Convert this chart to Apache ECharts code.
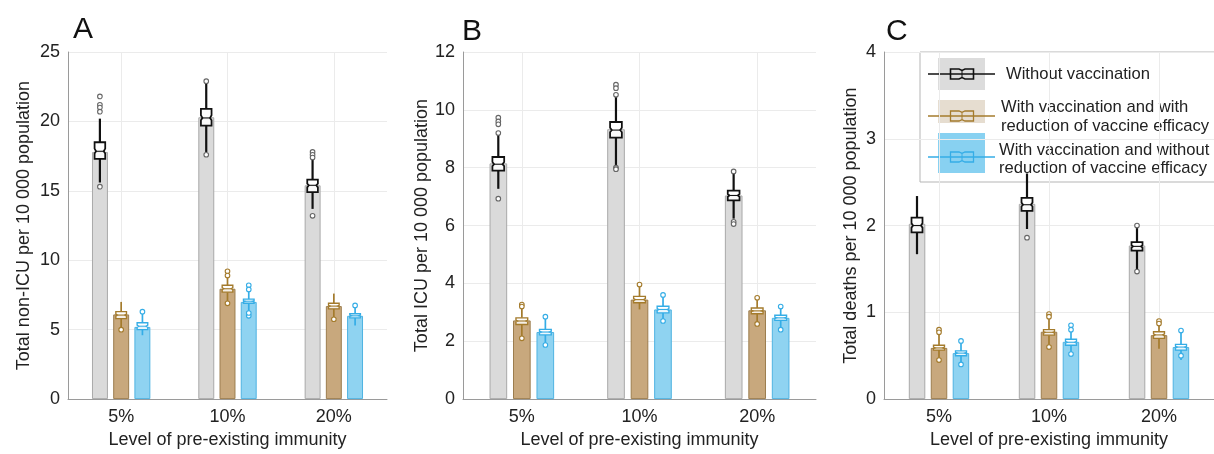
<!DOCTYPE html>
<html><head><meta charset="utf-8">
<script src="https://cdn.jsdelivr.net/npm/echarts@6/dist/echarts.min.js"></script>
<style>html,body{margin:0;padding:0;background:#fff}#c{width:1214px;height:454px}</style>
</head><body><div id="c"></div><script>
const categories = ['5%', '10%', '20%'];
const gridCats = ['', '5%', '', '10%', '', '20%', ''];
const seriesNames = ['Without vaccination', 'With vaccination and with reduction of vaccine efficacy', 'With vaccination and without reduction of vaccine efficacy'];

// ---- Panel A: Total non-ICU per 10 000 population ----
const A_none_mean = [17.8, 20.3, 15.4];
const A_red_mean = [6.1, 7.95, 6.7];
const A_nored_mean = [5.2, 7.0, 6.0];
// box stats per category: [lowWhisker, q1, median, q3, highWhisker]
const A_none_box = [[15.6, 17.3, 17.85, 18.5, 20.2], [17.8, 19.7, 20.25, 20.9, 22.8], [13.7, 14.9, 15.4, 15.8, 17.3]];
const A_red_box = [[4.95, 5.8, 6.05, 6.3, 7.0], [6.75, 7.7, 7.95, 8.2, 9.0], [5.7, 6.5, 6.7, 6.9, 7.6]];
const A_nored_box = [[4.6, 5.0, 5.25, 5.5, 6.2], [5.9, 6.9, 7.05, 7.2, 8.0], [5.3, 5.85, 6.0, 6.15, 6.7]];
// outliers: [categoryIndex, value]
const A_none_out = [[0, 21.8], [0, 21.2], [0, 21.0], [0, 20.7], [0, 15.3], [1, 22.9], [1, 17.6], [2, 17.8], [2, 17.6], [2, 17.4], [2, 13.2]];
const A_red_out = [[0, 5.0], [1, 9.2], [1, 8.9], [1, 6.9], [2, 5.75]];
const A_nored_out = [[0, 6.3], [1, 8.2], [1, 7.9], [1, 6.0], [1, 6.2], [2, 6.75]];

// ---- Panel B: Total ICU per 10 000 population ----
const B_none_mean = [8.15, 9.33, 7.04];
const B_red_mean = [2.72, 3.44, 3.07];
const B_nored_mean = [2.32, 3.1, 2.81];
const B_none_box = [[7.27, 7.9, 8.12, 8.37, 9.2], [8.07, 9.04, 9.3, 9.58, 10.47], [6.24, 6.87, 7.04, 7.21, 7.87]];
const B_red_box = [[2.13, 2.58, 2.7, 2.81, 3.2], [3.1, 3.33, 3.44, 3.55, 3.96], [2.58, 2.95, 3.05, 3.15, 3.5]];
const B_nored_box = [[1.9, 2.22, 2.32, 2.41, 2.85], [2.64, 2.98, 3.1, 3.21, 3.6], [2.35, 2.72, 2.81, 2.9, 3.2]];
const B_none_out = [[0, 9.73], [0, 9.6], [0, 9.5], [0, 9.2], [0, 6.93], [1, 10.87], [1, 10.75], [1, 10.52], [1, 8.0], [1, 7.95], [2, 7.87], [2, 6.13], [2, 6.05]];
const B_red_out = [[0, 3.27], [0, 3.2], [0, 2.1], [1, 3.96], [2, 3.5], [2, 2.6]];
const B_nored_out = [[0, 2.85], [0, 1.87], [1, 3.6], [1, 2.7], [2, 3.2], [2, 2.4]];

// ---- Panel C: Total deaths per 10 000 population ----
const C_none_mean = [2.02, 2.25, 1.77];
const C_red_mean = [0.59, 0.776, 0.737];
const C_nored_mean = [0.53, 0.66, 0.6];
const C_none_box = [[1.67, 1.92, 2.0, 2.09, 2.34], [1.96, 2.17, 2.24, 2.32, 2.6], [1.48, 1.71, 1.76, 1.81, 2.0]];
const C_red_box = [[0.45, 0.565, 0.59, 0.62, 0.8], [0.6, 0.737, 0.77, 0.8, 0.96], [0.58, 0.7, 0.74, 0.776, 0.9]];
const C_nored_box = [[0.38, 0.5, 0.53, 0.555, 0.67], [0.49, 0.62, 0.655, 0.69, 0.85], [0.45, 0.565, 0.6, 0.63, 0.79]];
const C_none_out = [[1, 1.86], [2, 2.0], [2, 1.47]];
const C_red_out = [[0, 0.8], [0, 0.77], [0, 0.45], [1, 0.98], [1, 0.95], [1, 0.6], [2, 0.9], [2, 0.87]];
const C_nored_out = [[0, 0.67], [0, 0.4], [1, 0.85], [1, 0.8], [1, 0.52], [2, 0.79], [2, 0.5]];

const FONT = "'Liberation Sans', Arial, Helvetica, sans-serif";
const TXT = '#222';
const styles = [
  { bar: '#dadada', barBorder: '#a9a9a9', box: '#111111', out: '#666666', lw: 2.2, patch: '#dcdcdc' },
  { bar: '#c8a87d', barBorder: '#9c7d4e', box: '#a47b2c', out: '#a47b2c', lw: 1.7, patch: '#e6ddd0' },
  { bar: '#8fd3f1', barBorder: '#4fb3e2', box: '#35ade6', out: '#35ade6', lw: 1.7, patch: '#88d1f1' }
];
const offsets = [-0.2, 0, 0.2];

function boxRender(g) {
  const st = styles[g], off = offsets[g];
  return function (params, api) {
    const cat = api.value(0);
    const band = api.size([1, 0])[0];
    const x = api.coord([cat, 0])[0] + off * band;
    const yLo = api.coord([cat, api.value(1)])[1];
    const yQ1 = api.coord([cat, api.value(2)])[1];
    const yMed = api.coord([cat, api.value(3)])[1];
    const yQ3 = api.coord([cat, api.value(4)])[1];
    const yHi = api.coord([cat, api.value(5)])[1];
    const hw = band * 0.05, nw = hw * 0.72;
    const nTop = yMed - (yMed - yQ3) * 0.3;
    const nBot = yMed + (yQ1 - yMed) * 0.3;
    const ls = { stroke: st.box, lineWidth: st.lw };
    return {
      type: 'group',
      children: [
        { type: 'line', shape: { x1: x, y1: yQ3, x2: x, y2: yHi }, style: ls },
        { type: 'line', shape: { x1: x, y1: yQ1, x2: x, y2: yLo }, style: ls },
        { type: 'polygon', shape: { points: [[x - hw, yQ3], [x + hw, yQ3], [x + hw, nTop], [x + nw, yMed], [x + hw, nBot], [x + hw, yQ1], [x - hw, yQ1], [x - hw, nBot], [x - nw, yMed], [x - hw, nTop]] },
          style: { fill: 'rgba(255,255,255,0.82)', stroke: st.box, lineWidth: st.lw * 0.8 } },
        { type: 'line', shape: { x1: x - nw, y1: yMed, x2: x + nw, y2: yMed }, style: { stroke: st.box, lineWidth: 1.1 } }
      ]
    };
  };
}
function outRender(g) {
  const st = styles[g], off = offsets[g];
  return function (params, api) {
    const cat = api.value(0);
    const band = api.size([1, 0])[0];
    const p = api.coord([cat, api.value(1)]);
    return { type: 'circle', shape: { cx: p[0] + off * band, cy: p[1], r: 2.3 }, style: { fill: '#fff', stroke: st.out, lineWidth: 1.1 } };
  };
}

const panels = [
  { means: [A_none_mean, A_red_mean, A_nored_mean], boxes: [A_none_box, A_red_box, A_nored_box], outs: [A_none_out, A_red_out, A_nored_out],
    left: 68, width: 319, max: 25, interval: 5, yName: 'Total non-ICU per 10 000 population', nameGap: 35 },
  { means: [B_none_mean, B_red_mean, B_nored_mean], boxes: [B_none_box, B_red_box, B_nored_box], outs: [B_none_out, B_red_out, B_nored_out],
    left: 463, width: 353, max: 12, interval: 2, yName: 'Total ICU per 10 000 population', nameGap: 32 },
  { means: [C_none_mean, C_red_mean, C_nored_mean], boxes: [C_none_box, C_red_box, C_nored_box], outs: [C_none_out, C_red_out, C_nored_out],
    left: 884, width: 345, max: 4, interval: 1, yName: 'Total deaths per 10 000 population', nameGap: 24 }
];

const grid = [], xAxis = [], yAxis = [], series = [];
panels.forEach((p, i) => {
  grid.push({ left: p.left, width: p.width, top: 52, height: 349 });
  xAxis.push({
    type: 'category', gridIndex: i, data: categories, position: 'bottom',
    axisLine: { lineStyle: { color: '#9a9a9a', width: 1 } }, axisTick: { show: false },
    axisLabel: { color: TXT, fontSize: 18, fontFamily: FONT, margin: 9 },
    name: 'Level of pre-existing immunity', nameLocation: 'middle', nameGap: 31,
    nameTextStyle: { color: TXT, fontSize: 18, fontFamily: FONT },
    splitLine: { show: false }
  });
  xAxis.push({
    type: 'category', gridIndex: i, data: gridCats, boundaryGap: false, position: 'top',
    axisLine: { show: false }, axisTick: { show: false }, axisLabel: { show: false },
    splitLine: { show: true, interval: (idx) => idx % 2 === 1, lineStyle: { color: '#ebebeb', width: 1 } }
  });
  yAxis.push({
    type: 'value', gridIndex: i, min: 0, max: p.max, interval: p.interval,
    axisLine: { show: true, lineStyle: { color: '#9a9a9a', width: 1 } }, axisTick: { show: false },
    axisLabel: { color: TXT, fontSize: 18, fontFamily: FONT, margin: 8 },
    splitLine: { show: true, lineStyle: { color: '#ebebeb', width: 1 } },
    name: p.yName, nameLocation: 'middle', nameGap: p.nameGap, nameRotate: 90,
    nameTextStyle: { color: TXT, fontSize: 18, fontFamily: FONT }
  });
  for (let g = 0; g < 3; g++) {
    series.push({
      type: 'bar', name: seriesNames[g], xAxisIndex: i * 2, yAxisIndex: i, data: p.means[g],
      barWidth: '15%', barGap: '33%', z: 2, silent: true,
      itemStyle: { color: styles[g].bar, borderColor: styles[g].barBorder, borderWidth: 1 }
    });
  }
  for (let g = 0; g < 3; g++) {
    series.push({
      type: 'custom', xAxisIndex: i * 2, yAxisIndex: i, z: 4, silent: true,
      data: p.boxes[g].map((b, k) => [k].concat(b)), renderItem: boxRender(g),
      encode: { x: 0, y: [1, 2, 3, 4, 5] }
    });
    series.push({
      type: 'custom', xAxisIndex: i * 2, yAxisIndex: i, z: 5, silent: true,
      data: p.outs[g], renderItem: outRender(g), encode: { x: 0, y: 1 }
    });
  }
});

// legend (drawn as graphic, panel C)
function hIcon(cx, cy, color, lw) {
  const hw = 11.5, hh = 5, nw = 3.6, nl = 3;
  return [
    { type: 'line', shape: { x1: 928, y1: cy, x2: 995, y2: cy }, style: { stroke: color, lineWidth: 1.3 } },
    { type: 'polygon', shape: { points: [[cx - hw, cy - hh], [cx - nl, cy - hh], [cx, cy - nw], [cx + nl, cy - hh], [cx + hw, cy - hh], [cx + hw, cy + hh], [cx + nl, cy + hh], [cx, cy + nw], [cx - nl, cy + hh], [cx - hw, cy + hh]] },
      style: { fill: 'rgba(255,255,255,0.0)', stroke: color, lineWidth: lw } },
    { type: 'line', shape: { x1: cx, y1: cy - nw, x2: cx, y2: cy + nw }, style: { stroke: color, lineWidth: 1 } }
  ];
}
const LF = '16.6px ' + FONT;
const legendEls = [
  { type: 'rect', shape: { x: 920, y: 52, width: 320, height: 130 }, style: { fill: '#fff', stroke: '#b5b5b5', lineWidth: 1 } },
  { type: 'rect', shape: { x: 938, y: 58, width: 47, height: 32 }, style: { fill: styles[0].patch } },
  { type: 'rect', shape: { x: 938, y: 100, width: 47, height: 23 }, style: { fill: styles[1].patch } },
  { type: 'rect', shape: { x: 938, y: 133, width: 47, height: 40 }, style: { fill: styles[2].patch } }
].concat(hIcon(962, 74, '#111', 1.6), hIcon(962, 116, styles[1].box, 1.3), hIcon(962, 157, styles[2].box, 1.3)).concat([
  { type: 'text', x: 1006, y: 74, style: { text: 'Without vaccination', fill: TXT, font: LF, verticalAlign: 'middle' } },
  { type: 'text', x: 1001, y: 107, style: { text: 'With vaccination and with', fill: TXT, font: LF, verticalAlign: 'middle' } },
  { type: 'text', x: 1001, y: 126, style: { text: 'reduction of vaccine efficacy', fill: TXT, font: LF, verticalAlign: 'middle' } },
  { type: 'text', x: 999, y: 150, style: { text: 'With vaccination and without', fill: TXT, font: LF, verticalAlign: 'middle' } },
  { type: 'text', x: 999, y: 168, style: { text: 'reduction of vaccine efficacy', fill: TXT, font: LF, verticalAlign: 'middle' } }
]);

const chart = echarts.init(document.getElementById('c'), null, { renderer: 'canvas' });
chart.setOption({
  backgroundColor: '#fff',
  animation: false,
  title: [
    { text: 'A', left: 68, top: 10, textStyle: { fontSize: 30, fontWeight: 'normal', color: '#111', fontFamily: FONT } },
    { text: 'B', left: 457, top: 12, textStyle: { fontSize: 30, fontWeight: 'normal', color: '#111', fontFamily: FONT } },
    { text: 'C', left: 881, top: 12, textStyle: { fontSize: 30, fontWeight: 'normal', color: '#111', fontFamily: FONT } }
  ],
  grid, xAxis, yAxis, series,
  graphic: { elements: [{ type: 'group', z: 100, children: legendEls }] }
});
</script></body></html>
